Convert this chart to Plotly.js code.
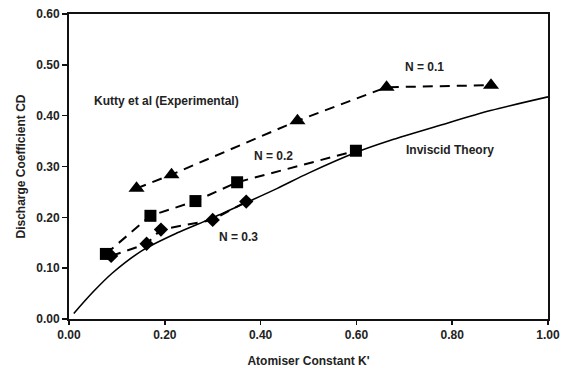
<!DOCTYPE html>
<html>
<head>
<meta charset="utf-8">
<script src="https://cdn.plot.ly/plotly-3.0.1.min.js"></script>
<style>html,body{margin:0;padding:0;background:#fff}#chart{width:568px;height:368px}</style>
</head>
<body>
<div id="chart"></div>
<script>
// Kutty et al experimental data
const n01K = [0.141, 0.214, 0.477, 0.663, 0.881];
const n01CD = [0.257, 0.284, 0.390, 0.456, 0.460];
const n02K = [0.077, 0.170, 0.264, 0.351, 0.599];
const n02CD = [0.128, 0.203, 0.232, 0.269, 0.331];
const n03K = [0.088, 0.162, 0.192, 0.300, 0.370];
const n03CD = [0.124, 0.148, 0.176, 0.195, 0.231];
// Inviscid theory curve
const theoryK = [0.01, 0.05, 0.09, 0.155, 0.225, 0.295, 0.37, 0.435, 0.50, 0.60, 0.67, 0.775, 0.88, 1.0];
const theoryCD = [0.011, 0.053, 0.09, 0.136, 0.169, 0.197, 0.229, 0.257, 0.287, 0.328, 0.351, 0.381, 0.410, 0.437];
const tickVals = [0, 0.1, 0.2, 0.3, 0.4, 0.5, 0.6];
const xTickVals = [0, 0.2, 0.4, 0.6, 0.8, 1.0];

const fontFam = 'Liberation Sans, Arial, sans-serif';
const dashStyle = {color: '#000', width: 2, dash: '10px,7px'};

const traces = [
  {x: theoryK, y: theoryCD, mode: 'lines', line: {color: '#000', width: 1.6, shape: 'spline', smoothing: 0.8}, hoverinfo: 'skip'},
  {x: n03K, y: n03CD, mode: 'lines+markers', line: dashStyle, marker: {symbol: 'diamond', size: 11, color: '#000'}},
  {x: n02K, y: n02CD, mode: 'lines+markers', line: dashStyle, marker: {symbol: 'square', size: 12, color: '#000'}},
  {x: n01K, y: n01CD, mode: 'lines+markers', line: dashStyle, marker: {symbol: 'triangle-up', size: 14, color: '#000'}}
];

const ann = (x, y, t) => ({x: x, y: y, xref: 'x', yref: 'y', text: '<b>' + t + '</b>', showarrow: false,
  font: {family: fontFam, size: 12, color: '#222'}});

const layout = {
  width: 568, height: 368,
  margin: {l: 69, r: 20, t: 14, b: 49},
  paper_bgcolor: '#fff', plot_bgcolor: '#fff',
  showlegend: false,
  font: {family: fontFam, size: 12, color: '#222'},
  xaxis: {
    range: [0, 1.0], tickvals: xTickVals, tickformat: '.2f',
    showgrid: false, zeroline: false,
    showline: true, mirror: true, linecolor: '#111', linewidth: 2,
    ticks: 'outside', ticklen: 4, tickwidth: 1.5, tickcolor: '#111',
    tickfont: {family: fontFam, size: 12, color: '#222', weight: 'bold'},
    title: {text: '<b>Atomiser Constant K\'</b>', font: {family: fontFam, size: 12, color: '#222'}, standoff: 16}
  },
  yaxis: {
    range: [0, 0.6], tickvals: tickVals, tickformat: '.2f',
    showgrid: false, zeroline: false,
    showline: true, mirror: true, linecolor: '#111', linewidth: 2,
    ticks: 'outside', ticklen: 5, tickwidth: 1.5, tickcolor: '#111',
    tickfont: {family: fontFam, size: 12, color: '#222', weight: 'bold'},
    title: {text: '<b>Discharge Coefficient CD</b>', font: {family: fontFam, size: 12, color: '#222'}, standoff: 8}
  },
  annotations: [
    ann(0.204, 0.428, 'Kutty et al (Experimental)'),
    ann(0.742, 0.496, 'N = 0.1'),
    ann(0.426, 0.321, 'N = 0.2'),
    ann(0.795, 0.333, 'Inviscid Theory'),
    ann(0.353, 0.162, 'N = 0.3')
  ]
};

Plotly.newPlot('chart', traces, layout, {staticPlot: true, displayModeBar: false});
</script>
</body>
</html>
